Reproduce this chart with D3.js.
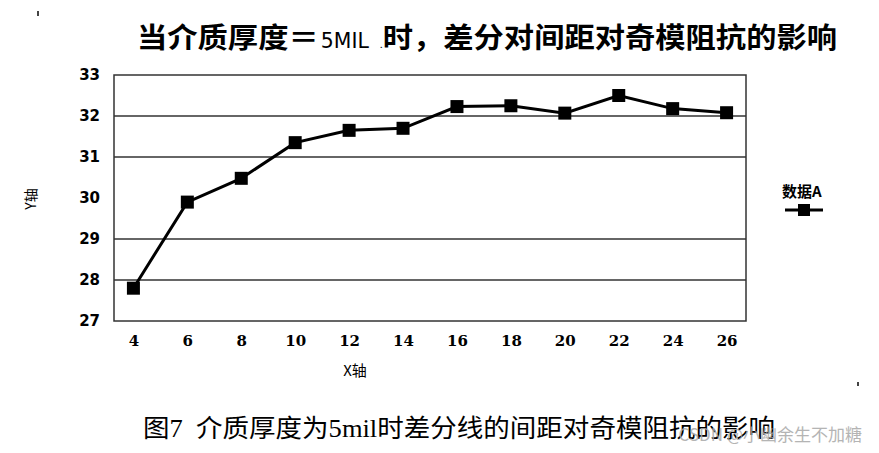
<!DOCTYPE html>
<html>
<head>
<meta charset="utf-8">
<script src="https://cdn.jsdelivr.net/npm/d3@7"></script>
<style>
  body { margin: 0; background: #fff; }
  svg { display: block; }
</style>
</head>
<body>
<div id="chart"></div>
<script>
// data
var xCats = [4, 6, 8, 10, 12, 14, 16, 18, 20, 22, 24, 26];
var seriesA = [27.8, 29.9, 30.48, 31.35, 31.65, 31.7, 32.23, 32.25, 32.07, 32.5, 32.18, 32.08];
var yTicks = [27, 28, 29, 30, 31, 32, 33];
var gridVals = [28, 29, 31, 32]; // the 30 line is missing in the original

var width = 879, height = 453;
var plot = { left: 114, right: 746, top: 75, bottom: 321 };

var svg = d3.select("#chart").append("svg")
  .attr("width", width)
  .attr("height", height);

var x = d3.scalePoint()
  .domain(xCats)
  .range([plot.left, plot.right])
  .padding(0.36);

var y = d3.scaleLinear()
  .domain([27, 33])
  .range([plot.bottom, plot.top]);

var cjk = "'Noto Sans CJK SC', sans-serif";

// title, "5MIL" is set in a thin narrow face in the original
var title = svg.append("text")
  .attr("x", 137).attr("y", 48)
  .attr("textLength", 700)
  .attr("lengthAdjust", "spacingAndGlyphs")
  .style("font-family", cjk)
  .style("font-weight", "bold")
  .style("font-size", "28px");
title.append("tspan").text("当介质厚度＝");
title.append("tspan")
  .style("font-family", "'Liberation Sans Narrow', 'DejaVu Sans Condensed', sans-serif")
  .style("font-weight", "normal")
  .style("font-size", "21px")
  .attr("dx", 2)
  .text("5MIL");
title.append("tspan")
  .style("font-weight", "normal")
  .style("font-size", "10px")
  .attr("dx", 10)
  .text(".");
title.append("tspan").text("时，差分对间距对奇模阻抗的影响");

// grid lines
svg.append("g").selectAll("line")
  .data(gridVals)
  .enter().append("line")
  .attr("x1", plot.left).attr("x2", plot.right)
  .attr("y1", function (d) { return y(d); })
  .attr("y2", function (d) { return y(d); })
  .attr("stroke", "#333")
  .attr("stroke-width", 1.3);

// plot frame
svg.append("rect")
  .attr("x", plot.left).attr("y", plot.top)
  .attr("width", plot.right - plot.left)
  .attr("height", plot.bottom - plot.top)
  .attr("fill", "none")
  .attr("stroke", "#333")
  .attr("stroke-width", 1.5);

// y axis labels
var yAxis = d3.axisLeft(y).tickValues(yTicks).tickFormat(d3.format("d")).tickSize(0).tickPadding(14);
var yg = svg.append("g")
  .attr("transform", "translate(" + plot.left + ",0)")
  .call(yAxis);
yg.select(".domain").remove();
yg.selectAll("text")
  .style("font-family", "'DejaVu Sans', sans-serif")
  .style("font-weight", "bold")
  .style("font-size", "15px")
  .attr("fill", "#000");

// x axis labels
var xAxis = d3.axisBottom(x).tickSize(0).tickPadding(14);
var xg = svg.append("g")
  .attr("transform", "translate(0," + plot.bottom + ")")
  .call(xAxis);
xg.select(".domain").remove();
xg.selectAll("text")
  .style("font-family", "'DejaVu Serif', serif")
  .style("font-weight", "bold")
  .style("font-size", "15px")
  .attr("fill", "#000");

// axis titles
svg.append("text")
  .attr("x", 355).attr("y", 376)
  .attr("text-anchor", "middle")
  .style("font-family", cjk)
  .style("font-size", "15px")
  .text("X轴");

svg.append("text")
  .attr("transform", "translate(36,199) rotate(-90)")
  .attr("text-anchor", "middle")
  .style("font-family", cjk)
  .style("font-size", "14px")
  .text("Y轴");

// series line
var line = d3.line()
  .x(function (d, i) { return x(xCats[i]); })
  .y(function (d) { return y(d); });

svg.append("path")
  .datum(seriesA)
  .attr("d", line)
  .attr("fill", "none")
  .attr("stroke", "#000")
  .attr("stroke-width", 3);

var ms = 13;
svg.append("g").selectAll("rect")
  .data(seriesA)
  .enter().append("rect")
  .attr("x", function (d, i) { return x(xCats[i]) - ms / 2; })
  .attr("y", function (d) { return y(d) - ms / 2; })
  .attr("width", ms).attr("height", ms)
  .attr("fill", "#000");

// legend
svg.append("text")
  .attr("x", 782).attr("y", 197)
  .style("font-family", cjk)
  .style("font-weight", "bold")
  .style("font-size", "15px")
  .text("数据A");
svg.append("line")
  .attr("x1", 785).attr("x2", 823)
  .attr("y1", 210).attr("y2", 210)
  .attr("stroke", "#000").attr("stroke-width", 3);
svg.append("rect")
  .attr("x", 798).attr("y", 204)
  .attr("width", 12).attr("height", 12)
  .attr("fill", "#000");

// caption
svg.append("text")
  .attr("x", 143).attr("y", 437)
  .attr("textLength", 632)
  .attr("lengthAdjust", "spacingAndGlyphs")
  .style("white-space", "pre")
  .style("font-family", "'Liberation Serif', 'Noto Sans CJK SC', serif")
  .style("font-size", "25px")
  .text("图7  介质厚度为5mil时差分线的间距对奇模阻抗的影响");

// watermark (overlaps the caption in the original too)
svg.append("text")
  .attr("x", 862).attr("y", 441)
  .attr("text-anchor", "end")
  .attr("fill", "#a8a8a8")
  .attr("opacity", 0.85)
  .style("font-family", cjk)
  .style("font-size", "17px")
  .text("CSDN @小幽余生不加糖");

// stray scan marks
svg.append("rect").attr("x", 37).attr("y", 11).attr("width", 2).attr("height", 5).attr("fill", "#444");
svg.append("rect").attr("x", 857).attr("y", 382).attr("width", 2).attr("height", 4).attr("fill", "#444");
</script>
</body>
</html>
